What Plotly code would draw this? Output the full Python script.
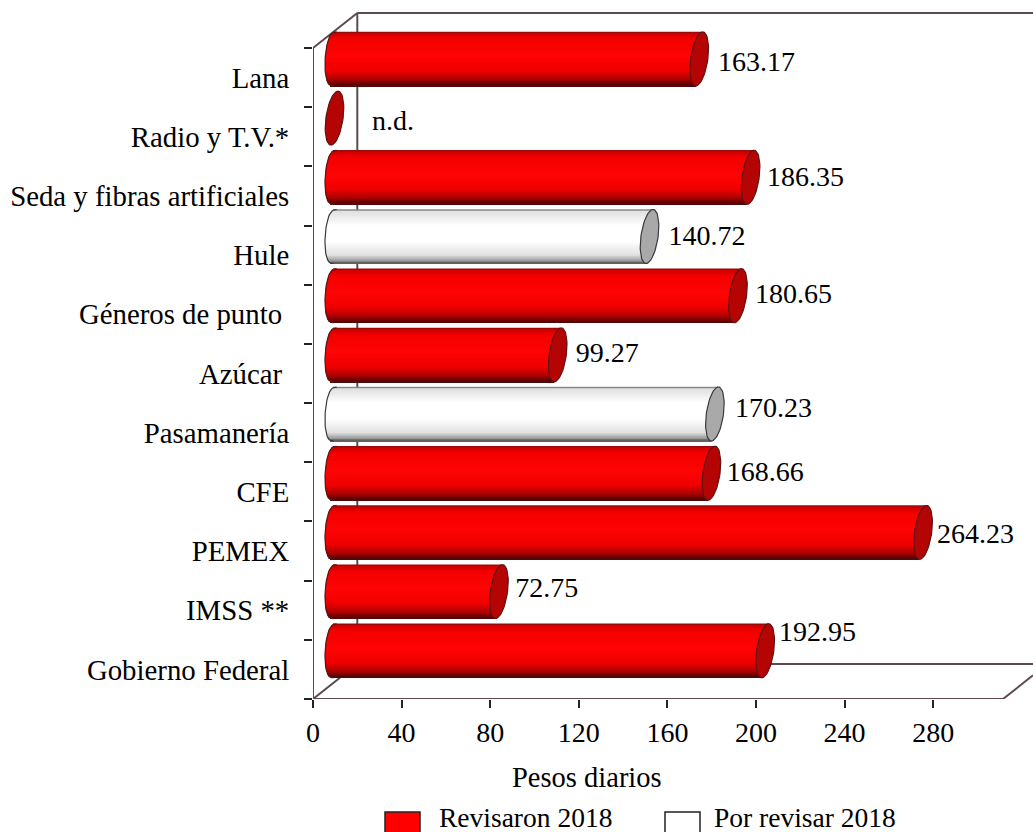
import math
import plotly.graph_objects as go

categories = ["Gobierno Federal", "IMSS **", "PEMEX", "CFE", "Pasamanería", "Azúcar\u00a0",
              "Géneros de punto\u00a0", "Hule", "Seda y fibras artificiales", "Radio y T.V.*", "Lana"]
values = [192.95, 72.75, 264.23, 168.66, 170.23, 99.27, 180.65, 140.72, 186.35, None, 163.17]
status = ["r", "r", "r", "r", "p", "r", "r", "p", "r", "r", "r"]
labels = ["192.95", "72.75", "264.23", "168.66", "170.23", "99.27", "180.65", "140.72", "186.35", "n.d.", "163.17"]
label_dx = [17.4, 18.5, 17.5, 18.1, 20.3, 19.4, 18.9, 19.8, 18.6, 26.6, 19.7]
label_dy = [0.29, 0.02, -0.06, -0.02, 0.07, 0.0, 0.0, -0.03, -0.03, -0.08, -0.08]
xticks = [0, 40, 80, 120, 160, 200, 240, 280]

FONT = "Liberation Serif"
W, H = 1033, 832
L, R, T, B = 313, 1003, 48, 699
PLOT_TOP = 5
XMAX = 311.5
PXU = (R - L) / XMAX
PYU = (B - T) / 11
YLOW = -0.5
YHIGH = 10.5
XEND = (W - L) / PXU                  # plot area runs to the page edge
YEND = YLOW + (B - PLOT_TOP) / PYU
DEPTH_X, DEPTH_Y = 20.0, 35 / PYU     # frame depth
LEFT, RIGHT = 10.0, 11.2              # cylinder start / end shift
LIFT = 0.315
HALF_H = 27 / PYU
A = 8.6 / PXU
LEFT_A = 10.0 / PXU
SHEAR = 3.5 / PXU
LEFT_SHEAR = 1.5 / PXU
N = 36


def lerp(c1, c2, f):
    return tuple(c1[k] + (c2[k] - c1[k]) * f for k in range(3))


def ramp(stops, f):
    for (p1, c1), (p2, c2) in zip(stops, stops[1:]):
        if f <= p2:
            c = lerp(c1, c2, (f - p1) / (p2 - p1))
            return "rgb(%d,%d,%d)" % c
    return "rgb(%d,%d,%d)" % stops[-1][1]


RED = [(0, (120, 15, 15)), (0.03, (205, 0, 0)), (0.14, (245, 0, 0)), (0.45, (255, 5, 5)),
       (0.72, (240, 0, 0)), (0.88, (175, 0, 0)), (0.97, (100, 0, 0)), (1, (70, 15, 15))]
WHITE = [(0, (90, 90, 90)), (0.04, (225, 225, 225)), (0.3, (255, 255, 255)), (0.6, (255, 255, 255)),
         (0.85, (225, 225, 225)), (0.96, (150, 150, 150)), (1, (70, 70, 70))]

fig = go.Figure()

# 3-D frame, kept below the bars as layer shapes
slope = DEPTH_Y / DEPTH_X
FRAME = dict(color="#5b4b4f", width=2)
frame_segments = [
    (0, YLOW, XMAX, YLOW), (XMAX, YLOW, XEND, YLOW + (XEND - XMAX) * slope),
    (0, YLOW, 0, YHIGH), (0, YHIGH, DEPTH_X, YHIGH + DEPTH_Y), (DEPTH_X, YHIGH + DEPTH_Y, XEND, YHIGH + DEPTH_Y),
    (DEPTH_X, YHIGH + DEPTH_Y, DEPTH_X, YLOW + DEPTH_Y), (DEPTH_X, YLOW + DEPTH_Y, XEND, YLOW + DEPTH_Y),
    (0, YLOW, DEPTH_X, YLOW + DEPTH_Y),
]
shapes = [dict(type="line", xref="x", yref="y", x0=a, y0=b, x1=c, y1=d, line=FRAME, layer="below")
          for a, b, c, d in frame_segments]

ys, xs, bases, widths, colors = [], [], [], [], []
for i, v in enumerate(values):
    if v is None:
        continue
    stops = RED if status[i] == "r" else WHITE
    for s in range(N):
        f = (s + 0.5) / N
        t = 1 - 2 * f
        start = LEFT + LEFT_SHEAR * t - LEFT_A * math.sqrt(max(0, 1 - t * t)) ** 0.7
        end = v + RIGHT + SHEAR * t
        ys.append(i + LIFT + t * HALF_H)
        xs.append(end - start)
        bases.append(start)
        widths.append(2 * HALF_H / N * 1.25)
        colors.append(ramp(stops, f))
fig.add_trace(go.Bar(orientation="h", y=ys, x=xs, base=bases, width=widths,
                     marker=dict(color=colors, line=dict(width=0)), cliponaxis=False,
                     hoverinfo="skip", showlegend=False))


def ellipse(cx, cy, a0=0, a1=2 * math.pi, n=60, ax=A, sh=SHEAR, power=1.0):
    ex, ey = [], []
    for k in range(n + 1):
        a = a0 + (a1 - a0) * k / n
        t = math.sin(a)
        c = math.cos(a)
        ex.append(cx + ax * math.copysign(abs(c) ** power, c) + sh * t)
        ey.append(cy + HALF_H * t)
    return ex, ey


for i, v in enumerate(values):
    cy = i + LIFT
    red = status[i] == "r"
    edge = "#5a1515" if red else "#3a3a3a"
    if v is None:
        ex, ey = ellipse(LEFT - 0.3, cy)
    else:
        lx, ly = ellipse(LEFT, cy, math.pi / 2, 3 * math.pi / 2, 30, LEFT_A, LEFT_SHEAR, 0.7)
        fig.add_trace(go.Scatter(x=lx, y=ly, mode="lines", line=dict(color=edge, width=1.2), cliponaxis=False,
                                 hoverinfo="skip", showlegend=False))
        ex, ey = ellipse(v + RIGHT, cy)
    fig.add_trace(go.Scatter(x=ex, y=ey, mode="lines", fill="toself",
                             fillcolor="#b40404" if red else "#a9a9a9",
                             line=dict(color=edge, width=1.2), cliponaxis=False,
                             hoverinfo="skip", showlegend=False))

# value labels
fig.add_trace(go.Scatter(
    x=[(0 if v is None else v) + d for v, d in zip(values, label_dx)],
    y=[i + LIFT + d for i, d in enumerate(label_dy)],
    mode="text", text=labels, textposition="middle right",
    textfont=dict(family=FONT, size=28, color="black"), cliponaxis=False,
    hoverinfo="skip", showlegend=False))

# carrier for category labels
fig.add_trace(go.Scatter(x=[None], y=[None], yaxis="y2", showlegend=False, hoverinfo="skip"))


def fx(x):
    return (x - L) / (W - L)


def fy(y):
    return (B - y) / (B - PLOT_TOP)


annotations = [dict(xref="paper", yref="paper", x=fx(587), y=fy(778), xanchor="center", yanchor="middle",
                    text="Pesos diarios", showarrow=False, font=dict(family=FONT, size=28.5, color="black"))]
for x0, x1, fill, tx, name in [(385, 420, "#ff0000", 438, "Revisaron 2018"),
                               (665, 700, "#ffffff", 713, "Por revisar 2018")]:
    shapes.append(dict(type="rect", xref="paper", yref="paper", x0=fx(x0), x1=fx(x1), y0=fy(840), y1=fy(812),
                       fillcolor=fill, line=dict(color="#222222", width=1.5)))
    annotations.append(dict(xref="paper", yref="paper", x=fx(tx), y=fy(834), xanchor="left", yanchor="bottom",
                            text=name, showarrow=False, borderpad=0,
                            font=dict(family=FONT, size=27.5, color="black")))

fig.update_layout(
    width=W, height=H, autosize=False, paper_bgcolor="white", plot_bgcolor="white",
    margin=dict(l=L, r=0, t=PLOT_TOP, b=H - B, pad=0),
    barmode="overlay", showlegend=False, shapes=shapes, annotations=annotations,
    font=dict(family=FONT, size=28, color="black"),
    xaxis=dict(range=[0, XEND], tickvals=xticks, ticks="outside", ticklen=8, tickwidth=2, tickcolor="#222222",
               showgrid=False, zeroline=False, showline=False, ticklabelstandoff=0),
    yaxis=dict(range=[YLOW, YEND], tickvals=[k - 0.5 for k in range(12)], ticktext=[""] * 12, ticks="outside",
               ticklen=8, tickwidth=2, tickcolor="#222222", showgrid=False, zeroline=False, showline=False),
    yaxis2=dict(range=[YLOW, YEND], overlaying="y", side="left", anchor="x", tickvals=list(range(11)),
                ticktext=categories, ticks="outside", ticklen=17, tickcolor="rgba(0,0,0,0)",
                showgrid=False, zeroline=False, showline=False, tickfont=dict(family=FONT, size=28.8)),
)

fig.write_html("out.html", config={"displayModeBar": False},
               post_script="document.body.style.margin='0';document.body.style.overflow='hidden';")
